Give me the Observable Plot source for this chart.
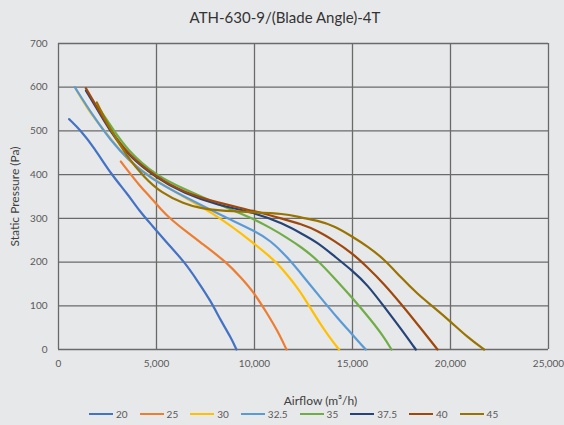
<!DOCTYPE html>
<html>
<head>
<meta charset="utf-8">
<script src="https://cdn.jsdelivr.net/npm/d3@7"></script>
<script src="https://cdn.jsdelivr.net/npm/@observablehq/plot@0.6"></script>
<style>
  html, body { margin: 0; padding: 0; }
  body { width: 564px; height: 425px; background: #e7e8ea; overflow: hidden; position: relative; font-family: Lato, "Open Sans", sans-serif; }
  #title { height: 34px; line-height: 34px; text-align: center; padding-left: 6px; box-sizing: border-box; font-size: 15px; color: #333; }
  #legend { position: absolute; top: 406px; left: 89px; height: 16px; line-height: 16px; display: flex; font-size: 10px; color: #595959; white-space: nowrap; }
  #legend .item { display: flex; align-items: center; margin-right: 12px; }
  #legend .sw { width: 24px; height: 2.5px; margin-right: 3px; }
</style>
</head>
<body>
<div id="title"></div>
<div id="chart"></div>
<div id="legend"></div>
<script>
const titleText = "ATH-630-9/(Blade Angle)-4T";
const xLabel = "Airflow (m³/h)";
const yLabel = "Static Pressure (Pa)";
const xTicks = [0, 5000, 10000, 15000, 20000, 25000];
const yTicks = [0, 100, 200, 300, 400, 500, 600, 700];

const angles = ["20", "25", "30", "32.5", "35", "37.5", "40", "45"];
const colors = ["#4472C4", "#ED7D31", "#FFC000", "#5B9BD5", "#70AD47", "#264478", "#9E480E", "#997300"];

const x20 = [541, 1138, 1816, 2668, 3520, 4112, 4709, 5730, 6410, 7092, 7770, 8281, 8791, 9080];
const y20 = [527, 501, 462, 402, 356, 318, 287, 234, 201, 157, 111, 66, 28, 0];

const x25 = [3178, 4199, 4709, 5219, 5730, 6390, 7300, 8536, 9301, 9980, 10663, 11173, 11633];
const y25 = [430, 371, 348, 321, 298, 274, 243, 201, 165, 130, 81, 43, 0];

const x30 = [883, 1480, 2327, 3520, 4709, 6410, 8112, 9811, 10830, 11173, 11684, 12107, 12531, 13041, 13551, 14061, 14316];
const y30 = [596, 550, 501, 432, 394, 348, 306, 249, 211, 196, 170, 146, 119, 81, 45, 14, 0];

const x325 = [832, 1816, 2668, 3520, 4709, 6410, 8622, 9980, 10830, 11684, 12531, 13382, 14234, 15000, 15423, 15678];
const y325 = [600, 531, 478, 436, 390, 350, 300, 272, 249, 211, 165, 118, 72, 34, 12, 0];

const x35 = [2000, 2668, 3520, 5000, 6410, 8112, 9811, 10830, 11684, 12362, 13214, 14061, 15000, 15933, 16612, 16990];
const y35 = [556, 512, 455, 397, 367, 333, 302, 278, 255, 235, 205, 164, 118, 68, 28, 0];

const x375 = [1400, 2158, 2668, 3520, 5000, 6410, 8112, 9980, 11510, 12362, 13214, 14061, 15000, 15765, 16612, 17464, 18230];
const y375 = [592, 536, 498, 445, 392, 357, 330, 314, 287, 266, 245, 214, 180, 148, 98, 48, 0];

const x40 = [1393, 2158, 2668, 3520, 5000, 6410, 8112, 9980, 11510, 12362, 13214, 14061, 15000, 15765, 16612, 17464, 18316, 19337];
const y40 = [598, 539, 501, 447, 394, 359, 336, 317, 298, 287, 272, 249, 220, 188, 150, 105, 58, 0];

const x45 = [1954, 2668, 3520, 4367, 5219, 6410, 7260, 8112, 9811, 11510, 12362, 13214, 14061, 15000, 15765, 16612, 17464, 18316, 19163, 20000, 20868, 21715];
const y45 = [565, 501, 440, 394, 359, 333, 323, 318, 314, 311, 302, 295, 283, 258, 236, 207, 165, 127, 96, 64, 28, 0];

const seriesX = [x20, x25, x30, x325, x35, x375, x40, x45];
const seriesY = [y20, y25, y30, y325, y35, y375, y40, y45];

const seriesRows = angles.map((a, i) => seriesX[i].map((xv, j) => ({angle: a, x: xv, y: seriesY[i][j]})));

document.getElementById("title").textContent = titleText;

const gridColor = "#6a6a6a";
const fontFam = "Lato, 'Open Sans', sans-serif";

const chart = Plot.plot({
  width: 564,
  height: 372,
  marginTop: 9,
  marginBottom: 57,
  marginLeft: 58,
  marginRight: 16,
  style: {background: "#e7e8ea", fontFamily: fontFam, fontSize: "10px", color: "#595959", overflow: "visible"},
  x: {domain: [0, 25000], ticks: xTicks, tickFormat: d3.format(","), label: null},
  y: {domain: [0, 700], ticks: yTicks, label: null},
  marks: [
    Plot.gridX(xTicks, {stroke: gridColor, strokeOpacity: 1, strokeWidth: 1.3}),
    Plot.gridY(yTicks, {stroke: gridColor, strokeOpacity: 1, strokeWidth: 1.3}),
    Plot.axisX(xTicks, {tickSize: 0, tickPadding: 10, tickFormat: d3.format(","), fill: "#595959", label: null}),
    Plot.axisY(yTicks, {tickSize: 0, tickPadding: 11, fill: "#595959", label: null}),
    ...seriesRows.map((rows, i) => Plot.line(rows, {x: "x", y: "y", stroke: colors[i], strokeWidth: 2.2, curve: "basis"})),
    Plot.text([yLabel], {frameAnchor: "left", textAnchor: "middle", rotate: -90, dx: -43, fontSize: 12, fill: "#404040"}),
    Plot.text([xLabel], {frameAnchor: "bottom", textAnchor: "middle", dy: 55, dx: 17, fontSize: 12, fill: "#404040"})
  ]
});
document.getElementById("chart").appendChild(chart);

const legend = document.getElementById("legend");
angles.forEach((a, i) => {
  const item = document.createElement("div");
  item.className = "item";
  const sw = document.createElement("div");
  sw.className = "sw";
  sw.style.background = colors[i];
  const t = document.createElement("span");
  t.textContent = a;
  item.appendChild(sw);
  item.appendChild(t);
  legend.appendChild(item);
});
</script>
</body>
</html>
